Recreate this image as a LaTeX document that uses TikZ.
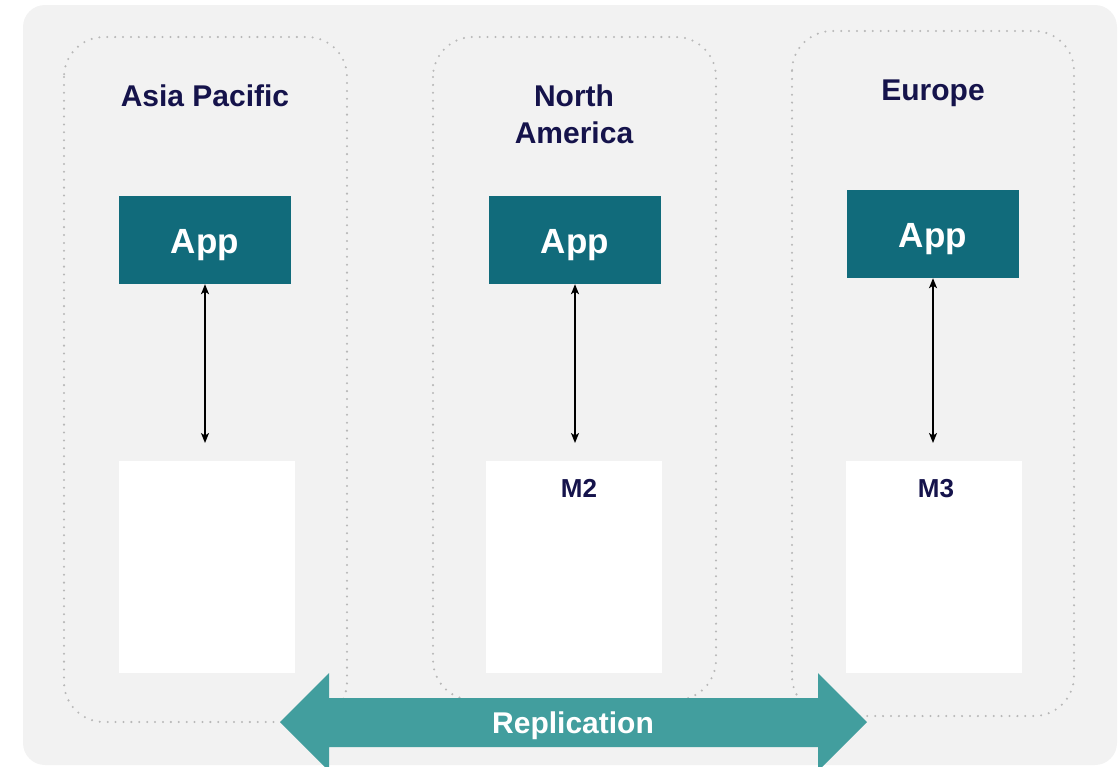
\documentclass[tikz,border=0pt]{standalone}
\usepackage{fontspec}
\setmainfont{Liberation Sans}
\usetikzlibrary{arrows.meta}
\definecolor{bgGray}{HTML}{F2F2F2}
\definecolor{dotGray}{HTML}{B8B8B8}
\definecolor{appTeal}{HTML}{116B7B}
\definecolor{repTeal}{HTML}{429E9E}
\definecolor{navy}{HTML}{15134B}
\begin{document}
\begin{tikzpicture}[x=1pt,y=-1pt,
  region/.style={draw=dotGray, line width=2.3pt, line cap=round,
    dash pattern=on 0pt off 7.9pt, rounded corners=40pt},
  appbox/.style={fill=appTeal, draw=none, minimum width=172pt, minimum height=88pt, inner sep=0pt},
  apptext/.style={text=white, font=\bfseries\fontsize{35}{40}\selectfont, inner sep=0pt, anchor=base},
  dbbox/.style={fill=white, draw=none, minimum width=176pt, minimum height=212pt, inner sep=0pt},
  dbtext/.style={text=navy, font=\bfseries\fontsize{26}{30}\selectfont, inner sep=0pt, anchor=base},
  title/.style={text=navy, font=\bfseries\fontsize{30}{37}\selectfont, inner sep=0pt, anchor=base, align=center},
  conn/.style={{Stealth[length=10pt,width=8pt,inset=2.5pt]}-{Stealth[length=10pt,width=8pt,inset=2.5pt]}, line width=1.5pt, black},
]
\useasboundingbox (0,0) rectangle (1119,766);
\clip (0,0) rectangle (1119,766);

% panel background
\fill[bgGray, rounded corners=22pt] (23,5) rectangle (1117,765);

% regions
\draw[region] (64,37) rectangle (347,722);
\draw[region] (433,37) rectangle (716,700);
\draw[region] (792,31) rectangle (1074,716);

% region titles
\node[title] (tAP) at (205,106) {Asia Pacific};
\node[title] (tNA1) at (574,106) {North};
\node[title] (tNA2) at (574,143) {America};
\node[title] (tEU) at (933,100) {Europe};

% application boxes
\node[appbox] (app1) at (205,240) {};
\node[appbox] (app2) at (575,240) {};
\node[appbox] (app3) at (933,234) {};
\node[apptext] (app1t) at (205,253) {App};
\node[apptext] (app2t) at (575,253) {App};
\node[apptext] (app3t) at (933,247) {App};

% database boxes
\node[dbbox] (db1) at (207,567) {};
\node[dbbox] (db2) at (574,567) {};
\node[dbbox] (db3) at (934,567) {};
\node[dbtext] (db2t) at (579,497) {M2};
\node[dbtext] (db3t) at (936,497) {M3};

% app <-> database links
\coordinate (e1) at (205,443);
\coordinate (e2) at (575,443);
\coordinate (e3) at (933,443);
\draw[conn] (app1.south) -- (e1);
\draw[conn] (app2.south) -- (e2);
\draw[conn] (app3.south) -- (e3);

% replication arrow
\fill[repTeal] (280,722) -- (329,673) -- (329,698) -- (818,698) -- (818,673)
  -- (867,722) -- (818,771) -- (818,747) -- (329,747) -- (329,771) -- cycle;
\node[text=white, font=\bfseries\fontsize{30}{36}\selectfont, inner sep=0pt, anchor=base] (rep) at (573,733) {Replication};
\end{tikzpicture}
\end{document}
